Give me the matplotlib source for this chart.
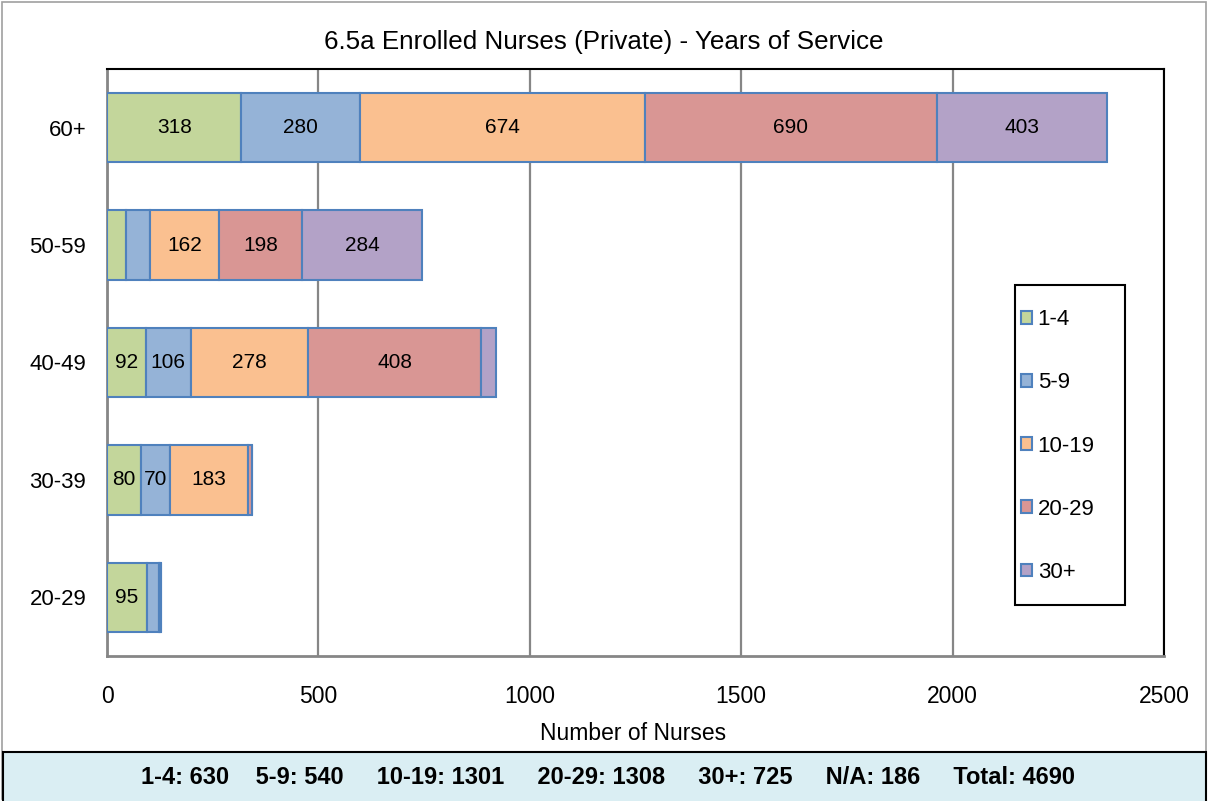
"""
Enrolled nurses (private) by age group, stacked by years of service.
"""

import matplotlib.pyplot as plt
from matplotlib.patches import Patch, Rectangle

plt.rcParams["font.family"] = ["Liberation Sans", "DejaVu Sans"]

age_groups = ["20-29", "30-39", "40-49", "50-59", "60+"]
service_bands = ["1-4", "5-9", "10-19", "20-29", "30+"]

# years-of-service counts per age group (bottom to top order)
yrs_1_4 = [95, 80, 92, 45, 318]
yrs_5_9 = [27, 70, 106, 57, 280]
yrs_10_19 = [4, 183, 278, 162, 674]
yrs_20_29 = [2, 10, 408, 198, 690]
yrs_30_plus = [0, 1, 37, 284, 403]

series = [yrs_1_4, yrs_5_9, yrs_10_19, yrs_20_29, yrs_30_plus]
colors = ["#C3D69B", "#95B3D7", "#FAC090", "#D99694", "#B3A2C7"]
edge = "#4F81BD"

footer = ("1-4: 630    5-9: 540     10-19: 1301     20-29: 1308     "
          "30+: 725     N/A: 186     Total: 4690")
label_min = 60  # smaller segments were left unlabelled

fig = plt.figure(figsize=(12.08, 8.01), dpi=100)
ax = fig.add_axes([0.0886, 0.181, 0.875, 0.733])

ypos = list(range(len(age_groups)))
left = [0] * len(age_groups)
for vals, col in zip(series, colors):
    ax.barh(ypos, vals, left=left, height=0.59, color=col,
            edgecolor=edge, linewidth=1.5, zorder=3)
    for y, v, l in zip(ypos, vals, left):
        if v >= label_min:
            ax.text(l + v / 2, y, str(v), ha="center", va="center",
                    fontsize=15, color="black", zorder=4)
    left = [a + b for a, b in zip(left, vals)]

ax.set_xlim(0, 2500)
ax.set_ylim(-0.5, len(age_groups) - 0.5)
ax.set_xticks([0, 500, 1000, 1500, 2000, 2500])
ax.set_yticks(ypos)
ax.set_yticklabels(age_groups)
ax.tick_params(axis="x", length=0, pad=21, labelsize=16.5)
ax.tick_params(axis="y", length=0, pad=15, labelsize=16)
ax.grid(axis="x", color="#868686", linewidth=1.6, zorder=0)

for side in ["left", "bottom"]:
    ax.spines[side].set_color("#868686")
    ax.spines[side].set_linewidth(2)
for side in ["top", "right"]:
    ax.spines[side].set_color("black")
    ax.spines[side].set_linewidth(1.5)

fig.text(0.5, 1 - 42 / 801, "6.5a Enrolled Nurses (Private) - Years of Service",
         ha="center", va="center", fontsize=18.7)
fig.text(633 / 1208, 1 - 733 / 801, "Number of Nurses", ha="center", va="center",
         fontsize=16.5)

# legend: frameless, with its box drawn separately (Excel-style offsets)
handles = [Patch(facecolor=c, edgecolor=edge, linewidth=1.5) for c in colors]
fig.legend(handles, service_bands, loc="center left",
           bbox_to_anchor=(1021 / 1208, 1 - 446 / 801),
           fontsize=16, frameon=False,
           handlelength=0.5, handleheight=0.5, handletextpad=0.25,
           labelspacing=1.9, borderpad=0, borderaxespad=0)
fig.patches.append(Rectangle((1015 / 1208, 1 - 605 / 801), 110 / 1208, 320 / 801,
                             transform=fig.transFigure, fill=False,
                             edgecolor="black", linewidth=1.5, zorder=5))

# outer chart border and summary box
fig.patches.append(Rectangle((0.002, 0.002), 0.996, 0.996, transform=fig.transFigure,
                             fill=False, edgecolor="#A0A0A0", linewidth=1.2))
fig.patches.append(Rectangle((3 / 1208, -0.01), 1203 / 1208, 49 / 801 + 0.01,
                             transform=fig.transFigure, facecolor="#DAEEF3",
                             edgecolor="black", linewidth=1.5))
fig.text(608 / 1208, 1 - 777 / 801, footer, ha="center", va="center",
         fontsize=17, fontweight="bold")

fig.savefig("out.png", dpi=100)
